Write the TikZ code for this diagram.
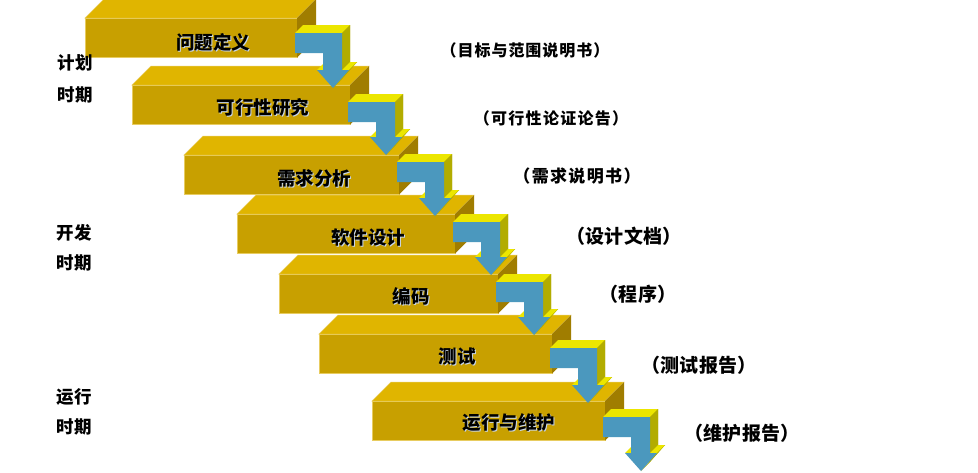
\documentclass[tikz,border=0pt]{standalone}
\usepackage{fontspec}
\setmainfont{Noto Sans CJK SC}
\definecolor{bfront}{RGB}{200,160,0}
\definecolor{btop}{RGB}{224,181,0}
\definecolor{bside}{RGB}{160,125,0}
\definecolor{bedge}{RGB}{232,204,96}
\definecolor{ablue}{RGB}{75,152,190}
\definecolor{atop}{RGB}{236,230,0}
\definecolor{aside}{RGB}{178,172,0}
\definecolor{tshadow}{RGB}{200,215,235}
\tikzset{
  front/.style={fill=bfront, draw=bedge, line width=0.5pt, inner sep=0pt, outer sep=0pt,
    anchor=north west, minimum height=39.5pt},
  topface/.style={fill=btop, draw=bedge, line width=0.5pt},
  sideface/.style={fill=bside},
  blab/.style={font=\bfseries\fontsize{18.5}{20}\selectfont, text=black, inner sep=0pt},
  blabshadow/.style={blab, text=tshadow},
  sidelab/.style={text=black, inner sep=0pt},
  phaselab/.style={font=\bfseries\fontsize{17.5}{19}\selectfont\addfontfeature{LetterSpace=3}, text=black, inner sep=0pt},
}
% block: name, left, top, right
\newcommand\stairblock[4]{%
  \node[front, minimum width={#4-#2}] (#1) at (#2,#3) {};
  \fill[topface] (#1.north west) -- ++(19,-19) -- ([shift={(19,-19)}]#1.north east) -- (#1.north east) -- cycle;
  \fill[sideface] (#1.north east) -- ++(19,-19) -- ([shift={(19,-19)}]#1.south east) -- (#1.south east) -- cycle;
}
\newcommand\apath[3]{({#1-2},#2) -- ({#1+45},#2) -- ({#1+45},{#3-18}) -- ({#1+52},{#3-18}) -- ({#1+36},#3) -- ({#1+20},{#3-18}) -- ({#1+26},{#3-18}) -- ({#1+26},{#2+20}) -- ({#1-2},{#2+20}) -- cycle}
% arrow: right edge of block, bar top, tip y
\newcommand\stairarrow[3]{%
  \begin{scope}[shift={(8,-8)}]
    \fill[aside] \apath{#1}{#2}{#3};
  \end{scope}
  \fill[atop] ({#1-2},#2) -- ({#1+6},{#2-8}) -- ({#1+53},{#2-8}) -- ({#1+45},#2) -- cycle;
  \fill[aside] ({#1+45},#2) -- ({#1+53},{#2-8}) -- ({#1+53},{#3-26}) -- ({#1+45},{#3-18}) -- cycle;
  \fill[atop] ({#1+45},{#3-18}) -- ({#1+52},{#3-18}) -- ({#1+60},{#3-26}) -- ({#1+53},{#3-26}) -- cycle;
  \fill[atop] ({#1+20},{#3-18}) -- ({#1+26},{#3-18}) -- ({#1+34},{#3-26}) -- ({#1+28},{#3-26}) -- cycle;
  \fill[aside] ({#1+52},{#3-18}) -- ({#1+36},#3) -- ({#1+44},{#3-8}) -- ({#1+60},{#3-26}) -- cycle;
  \fill[ablue] \apath{#1}{#2}{#3};
}
\newcommand\blocklabel[4]{%
  \node[blabshadow] (#1s) at ({#2+1},{#3+1}) {#4};
  \node[blab] (#1) at (#2,#3) {#4};
}
\begin{document}
\begin{tikzpicture}[x=1pt,y=-1pt]
\fill[white] (0,0) rectangle (978,472);
\useasboundingbox (0,0) rectangle (978,472);
% blocks
\stairblock{b1}{85}{18}{297}
\stairblock{b2}{132}{85}{350}
\stairblock{b3}{184}{155}{399}
\stairblock{b4}{237}{214}{455}
\stairblock{b5}{279}{274}{498}
\stairblock{b6}{319}{334}{552}
\stairblock{b7}{372}{401}{605}
% arrows
\stairarrow{297}{33}{88}
\stairarrow{350}{102}{155}
\stairarrow{399}{162}{216}
\stairarrow{455}{222}{275}
\stairarrow{498}{282}{335}
\stairarrow{552}{348}{403}
\stairarrow{605}{417}{471}
% block labels
\blocklabel{t1}{213}{42}{问题定义}
\blocklabel{t2}{263}{107}{可行性研究}
\blocklabel{t3}{314}{178}{需求分析}
\blocklabel{t4}{368}{237}{软件设计}
\blocklabel{t5}{411}{296}{编码}
\blocklabel{t6}{457}{357}{测试}
\blocklabel{t7}{509}{423}{运行与维护}
% output documents
\node[sidelab, font=\bfseries\fontsize{16}{18}\selectfont\addfontfeature{LetterSpace=6}] (o1) at (525,50) {（目标与范围说明书）};
\node[sidelab, font=\bfseries\fontsize{16}{18}\selectfont\addfontfeature{LetterSpace=8}] (o2) at (551,118) {（可行性论证论告）};
\node[sidelab, font=\bfseries\fontsize{17}{19}\selectfont\addfontfeature{LetterSpace=8}] (o3) at (577,176) {（需求说明书）};
\node[sidelab, font=\bfseries\fontsize{19}{21}\selectfont\addfontfeature{LetterSpace=2}] (o4) at (624,236) {（设计文档）};
\node[sidelab, font=\bfseries\fontsize{19}{21}\selectfont\addfontfeature{LetterSpace=2}] (o5) at (638,294) {（程序）};
\node[sidelab, font=\bfseries\fontsize{19}{21}\selectfont\addfontfeature{LetterSpace=2}] (o6) at (699,365) {（测试报告）};
\node[sidelab, font=\bfseries\fontsize{19}{21}\selectfont\addfontfeature{LetterSpace=2}] (o7) at (742,433) {（维护报告）};
% phases
\node[phaselab] (ph1a) at (75,63) {计划};
\node[phaselab] (ph1b) at (75,95) {时期};
\node[phaselab] (ph2a) at (74,233) {开发};
\node[phaselab] (ph2b) at (74,263) {时期};
\node[phaselab] (ph3a) at (74,397) {运行};
\node[phaselab] (ph3b) at (74,427) {时期};
\end{tikzpicture}
\end{document}
